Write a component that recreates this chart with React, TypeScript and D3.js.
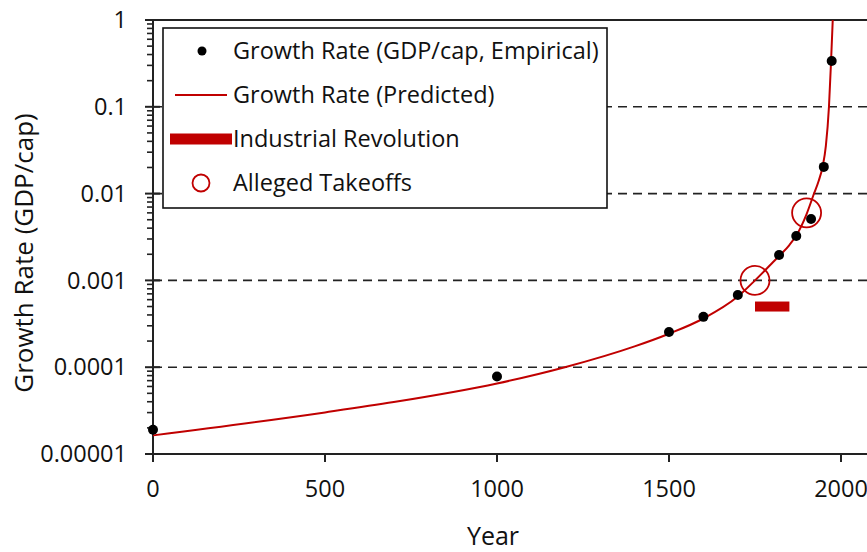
import React from 'react';
import * as d3 from 'd3';

// Empirical GDP-per-capita growth rates
const empiricalYears = [0, 1000, 1500, 1600, 1700, 1820, 1870, 1913, 1950, 1973];
const empiricalRates = [1.9e-5, 7.8e-5, 2.54e-4, 3.8e-4, 6.8e-4, 1.96e-3, 3.25e-3, 5.1e-3, 0.0203, 0.337];

// Predicted growth-rate curve
const predictedYears = [
  0, 500, 700, 1000, 1200, 1400, 1500, 1600, 1700, 1750, 1800, 1820, 1850, 1870, 1900, 1920, 1935,
  1947, 1956, 1965, 1971, 1976,
];
const predictedRates = [
  1.638e-5, 3.015e-5, 3.963e-5, 6.49e-5, 1.005e-4, 1.736e-4, 2.43e-4, 3.64e-4, 6.52e-4, 1.0e-3,
  1.587e-3, 1.91e-3, 2.557e-3, 3.29e-3, 5.82e-3, 9.63e-3, 0.01397, 0.0208, 0.0354, 0.1, 0.328, 1.0,
];

// Alleged takeoff points
const takeoffYears = [1750, 1900];
const takeoffRates = [0.001, 0.006];

// Industrial Revolution span
const industrialSpan = [1750, 1850];
const industrialRate = 0.0005;

const yTicks = [1e-5, 1e-4, 1e-3, 1e-2, 0.1, 1];
const yTickLabels = ['0.00001', '0.0001', '0.001', '0.01', '0.1', '1'];
const xTicks = [0, 500, 1000, 1500, 2000];
const gridRates = [1e-4, 1e-3, 1e-2, 0.1];

const legendLabels = [
  'Growth Rate (GDP/cap, Empirical)',
  'Growth Rate (Predicted)',
  'Industrial Revolution',
  'Alleged Takeoffs',
];

const W = 867;
const H = 552;
const LEFT = 153;
const TOP = 20;
const BOTTOM = 454;
const RED = '#C00000';
const AXIS = '#222';
const FONT = '"Open Sans", sans-serif';
const FS = 23.5;

export default function App() {
  const x = d3.scaleLinear().domain([0, 2100]).range([LEFT, LEFT + 2100 * 0.344]);
  const y = d3.scaleLog().domain([1e-5, 1]).range([BOTTOM, TOP]);

  const predicted = predictedYears.map((t, i) => [t, predictedRates[i]] as [number, number]);
  const line = d3
    .line<[number, number]>()
    .x((d) => x(d[0]))
    .y((d) => y(d[1]))
    .curve(d3.curveMonotoneX);

  // minor ticks 2..9 in each decade
  const minorTicks: number[] = [];
  for (let e = -5; e < 0; e++) {
    for (let m = 2; m <= 9; m++) minorTicks.push(m * Math.pow(10, e));
  }

  const legendRowsY = [51, 95, 139, 183];

  return (
    <svg
      width={W}
      height={H}
      style={{ position: 'absolute', left: 0, top: 0, background: '#fff' }}
      fontFamily={FONT}
    >
      <defs>
        <clipPath id="plot-clip">
          <rect x={LEFT} y={TOP} width={W - LEFT} height={BOTTOM - TOP} />
        </clipPath>
      </defs>
      <rect width={W} height={H} fill="#fff" />

      {/* dashed gridlines */}
      {gridRates.map((r) => (
        <line
          key={r}
          x1={LEFT}
          x2={W}
          y1={y(r)}
          y2={y(r)}
          stroke="#222"
          strokeWidth={1.6}
          strokeDasharray="9,6"
        />
      ))}

      {/* axes */}
      <line x1={LEFT} x2={W} y1={TOP} y2={TOP} stroke={AXIS} strokeWidth={2} />
      <line x1={LEFT} x2={W} y1={BOTTOM} y2={BOTTOM} stroke={AXIS} strokeWidth={2} />
      <line x1={LEFT} x2={LEFT} y1={TOP} y2={BOTTOM + 8} stroke={AXIS} strokeWidth={2} />

      {yTicks.map((t, i) => (
        <g key={t}>
          <line x1={LEFT - 8} x2={LEFT + 7} y1={y(t)} y2={y(t)} stroke={AXIS} strokeWidth={2} />
          <text x={127} y={y(t)} dy="0.35em" textAnchor="end" fontSize={FS} fill="#111">
            {yTickLabels[i]}
          </text>
        </g>
      ))}
      {minorTicks.map((t) => (
        <line key={t} x1={LEFT - 6} x2={LEFT} y1={y(t)} y2={y(t)} stroke={AXIS} strokeWidth={1.6} />
      ))}

      {xTicks.map((t) => (
        <g key={t}>
          <line x1={x(t)} x2={x(t)} y1={BOTTOM} y2={BOTTOM + 8} stroke={AXIS} strokeWidth={2} />
          <text x={x(t)} y={497} textAnchor="middle" fontSize={FS} fill="#111">
            {t}
          </text>
        </g>
      ))}

      <text x={493} y={545} textAnchor="middle" fontSize={25} fill="#111">
        Year
      </text>
      <text
        transform={`translate(33, 253) rotate(-90)`}
        textAnchor="middle"
        fontSize={26}
        fill="#111"
      >
        Growth Rate (GDP/cap)
      </text>

      {/* legend */}
      <rect x={163} y={28} width={444} height={180} fill="#fff" stroke="#111" strokeWidth={1.6} />
      <circle cx={202} cy={legendRowsY[0]} r={4.5} fill="#000" />
      <line x1={175} x2={227} y1={legendRowsY[1]} y2={legendRowsY[1]} stroke={RED} strokeWidth={2} />
      <rect x={170} y={legendRowsY[2] - 5.5} width={62} height={11} fill={RED} />
      <circle cx={201} cy={legendRowsY[3]} r={8.5} fill="none" stroke={RED} strokeWidth={1.8} />
      {legendLabels.map((l, i) => (
        <text key={l} x={233} y={legendRowsY[i]} dy="0.35em" fontSize={FS} fill="#111">
          {l}
        </text>
      ))}

      {/* data */}
      <g clipPath="url(#plot-clip)">
        <path d={line(predicted) ?? ''} fill="none" stroke={RED} strokeWidth={2} />
        <rect
          x={x(industrialSpan[0])}
          y={y(industrialRate) - 5}
          width={x(industrialSpan[1]) - x(industrialSpan[0])}
          height={10}
          fill={RED}
        />
        {takeoffYears.map((t, i) => (
          <circle
            key={t}
            cx={x(t)}
            cy={y(takeoffRates[i])}
            r={14.5}
            fill="none"
            stroke={RED}
            strokeWidth={1.8}
          />
        ))}
      </g>
      {empiricalYears.map((t, i) => (
        <circle key={t} cx={x(t)} cy={y(empiricalRates[i])} r={5} fill="#000" />
      ))}
    </svg>
  );
}
